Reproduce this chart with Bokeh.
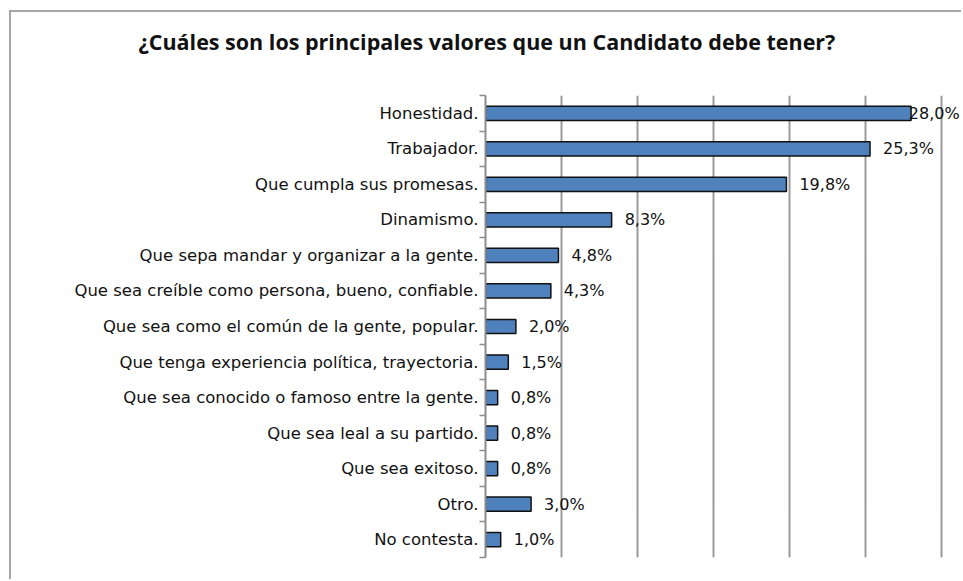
from bokeh.plotting import figure
from bokeh.models import ColumnDataSource, Range1d, FixedTicker, LinearAxis, Title
from bokeh.embed import file_html
from bokeh.resources import INLINE

categories = [
    "Honestidad.",
    "Trabajador.",
    "Que cumpla sus promesas.",
    "Dinamismo.",
    "Que sepa mandar y organizar a la gente.",
    "Que sea creíble como persona, bueno, confiable.",
    "Que sea como el común de la gente, popular.",
    "Que tenga experiencia política, trayectoria.",
    "Que sea conocido o famoso entre la gente.",
    "Que sea leal a su partido.",
    "Que sea exitoso.",
    "Otro.",
    "No contesta.",
]
values = [28.0, 25.3, 19.8, 8.3, 4.8, 4.3, 2.0, 1.5, 0.8, 0.8, 0.8, 3.0, 1.0]
grid_ticks = [5, 10, 15, 20, 25, 30]
title_text = "¿Cuáles son los principales valores que un Candidato debe tener?"

n = len(categories)
ypos = [i + 0.5 for i in range(n)]
labels = [f"{v:.1f}".replace(".", ",") + "%" for v in values]
xmax = 31.45
label_x = [min(v, 27.0) for v in values]

src = ColumnDataSource(dict(y=ypos, v=values, lab=labels, lx=label_x))

W, H = 952, 569
p = figure(width=W, height=H, output_backend="svg", toolbar_location=None,
           x_range=Range1d(0, xmax), y_range=Range1d(n, 0),
           min_border_left=474, min_border_right=0,
           min_border_top=83, min_border_bottom=24,
           y_axis_location=None, x_axis_location=None)
p.outline_line_color = None
p.background_fill_color = "white"
p.border_fill_color = "white"
p.styles = {"border-left": "2px solid #a6a6a6", "border-top": "2px solid #a6a6a6",
            "margin-left": "9px", "margin-top": "10px"}

p.xgrid.ticker = FixedTicker(ticks=grid_ticks)
p.xgrid.grid_line_color = "#9a9a9a"
p.xgrid.grid_line_width = 2
p.ygrid.grid_line_color = None

yaxis = LinearAxis(ticker=FixedTicker(ticks=ypos, minor_ticks=list(range(n + 1))))
yaxis.major_label_overrides = {y: c for y, c in zip(ypos, categories)}
yaxis.major_tick_line_color = None
yaxis.major_tick_in = 0
yaxis.major_tick_out = 0
yaxis.minor_tick_line_color = "#8c8c8c"
yaxis.minor_tick_line_width = 1.5
yaxis.minor_tick_out = 6
yaxis.minor_tick_in = 0
yaxis.axis_line_color = "#8c8c8c"
yaxis.axis_line_width = 2
yaxis.major_label_standoff = 1
yaxis.major_label_text_font = "DejaVu Sans"
yaxis.major_label_text_font_size = "16.5px"
yaxis.major_label_text_color = "#111111"
p.add_layout(yaxis, "left")

p.hbar(y="y", right="v", left=0, height=0.4, source=src,
       fill_color="#4f81bd", line_color="#111111", line_width=1.5)

p.text(x="lx", y="y", text="lab", source=src, x_offset=13,
       text_baseline="middle", text_align="left",
       text_font_size="16px", text_color="#111111",
       text_font={"value": "DejaVu Sans"})

t = Title(text=title_text + "\n ", align="left", offset=-347, standoff=22,
          vertical_align="bottom",
          text_font="Open Sans", text_font_style="bold", text_font_size="21.5px",
          text_color="#111111")
p.add_layout(t, "above")

open("out.html", "w").write(file_html(p, INLINE))
